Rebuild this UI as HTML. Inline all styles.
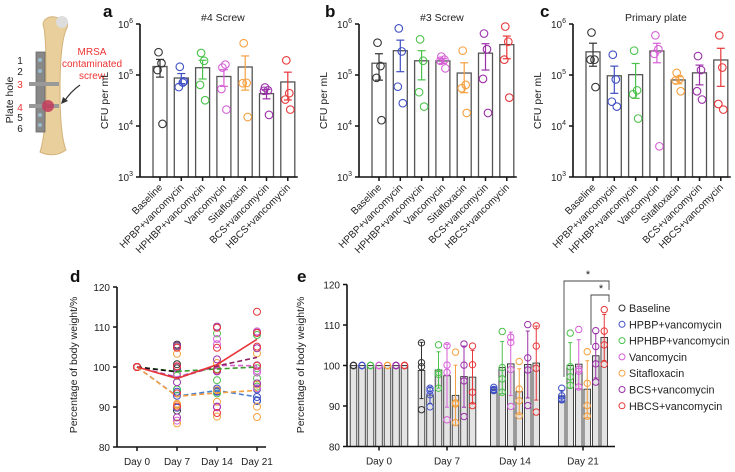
<!DOCTYPE html>
<html><head><meta charset="utf-8"><style>
body{margin:0;background:#fff}
svg{display:block;font-family:"Liberation Sans",sans-serif}
</style></head><body>
<svg id="fig" width="735" height="472" viewBox="0 0 735 472">
<g>
<path d="M44,28 C40,20 50,14 58,18 C66,14 70,22 66,30 C62,40 60,60 60,90 C60,120 62,140 66,150 C58,156 48,156 40,152 C44,140 46,120 46,90 C46,60 46,40 44,28Z" fill="#e9cf9c" stroke="#d4b27a" stroke-width="1"/>
<circle cx="62" cy="22" r="6" fill="#ddd"/>
<rect x="36" y="52" width="9" height="80" fill="#888" stroke="#666" stroke-width="0.8"/>
<rect x="29" y="82" width="30" height="4" fill="#999"/>
<rect x="29" y="104" width="30" height="4" fill="#999"/>
<circle cx="48" cy="106" r="6" fill="#c23a5a" opacity="0.85"/>
<circle cx="40" cy="60" r="2" fill="#9bc" /><circle cx="40" cy="71" r="2" fill="#9bc" />
<circle cx="40" cy="115" r="2" fill="#9bc" /><circle cx="40" cy="125" r="2" fill="#9bc" />
<path d="M80,85 Q70,92 64,102" fill="none" stroke="#333" stroke-width="1.2"/>
<path d="M61,104 L63,97 L68,101Z" fill="#333"/>
<text x="13" y="100" transform="rotate(-90 13 100)" text-anchor="middle" font-size="10.5" fill="#222">Plate hole</text>
<g font-size="10" text-anchor="middle">
<text x="20" y="64" fill="#222">1</text><text x="20" y="75" fill="#222">2</text><text x="20" y="88" fill="#e33">3</text>
<text x="20" y="111" fill="#e33">4</text><text x="20" y="121" fill="#222">5</text><text x="20" y="132" fill="#222">6</text>
</g>
<g font-size="10" text-anchor="middle" fill="#e33">
<text x="92" y="55">MRSA</text><text x="92" y="67">contaminated</text><text x="92" y="79">screw</text>
</g>
</g>
</svg>
<script>
const NS="http://www.w3.org/2000/svg";
const svg=document.getElementById('fig');
function el(t,a,p){const e=document.createElementNS(NS,t);for(const k in a)e.setAttribute(k,a[k]);(p||svg).appendChild(e);return e;}
function tx(s,a,p){const e=el('text',a,p);e.textContent=s;return e;}

const groups=["Baseline","HPBP+vancomycin","HPHBP+vancomycin","Vancomycin","Sitafloxacin","BCS+vancomycin","HBCS+vancomycin"];
const colors=["#333333","#3f4fc4","#4cc24c","#d65fd6","#f5a040","#9a2fa8","#e8373a"];
const cfuTicks=[3,4,5,6];
const screw4=[[2.8e5,1.7e5,1.25e5,1.1e4],[1.45e5,7.1e4,5.8e4,7.5e4],[2.7e5,1.9e5,6.4e4,3.2e4],[1.4e5,1.6e5,5.3e4,2.1e4],[4.2e5,7e4,6.9e4,1.5e4],[5.7e4,5e4,4.9e4,1.65e4],[1.94e5,4.4e4,3.3e4,2.1e4]];
const screw3=[[4.3e5,1.5e5,8.8e4,1.3e4],[8.2e5,2.9e5,5.9e4,2.8e4],[5e5,1.9e5,4.6e4,2.4e4],[2.3e5,2e5,1.9e5,1.35e5],[3e5,6.4e4,5.5e4,1.8e4],[6.5e5,3.2e5,8.4e4,1.8e4],[8.9e5,4.5e5,2e5,3.6e4]];
const plate=[[6.8e5,2e5,2e5,5.8e4],[2.5e5,8.2e4,3e4,2.4e4],[3e5,5e4,4.2e4,1.4e4],[6e5,3.2e5,2.6e5,4e3],[1.1e5,8.4e4,7.8e4,4.8e4],[2.35e5,1.25e5,4.8e4,3.3e4],[6e5,1.4e5,2.7e4,2.1e4]];

const days=["Day 0","Day 7","Day 14","Day 21"];
const weightTicks=[80,90,100,110,120];
const weight=[
 [[100,100,100,100],[105.6,100.7,99.7,89.1],null,null],
 [[100,100,100,100],[94.4,93.8,89.8,92.8],[94.6,94.1,93.8,94.0],[94.4,92.5,91.7,91.5]],
 [[100,100,100,100],[105.1,98.3,97.8,94.4],[108.4,96.7,93.4,99.5],[108,97.2,95.1,99.7]],
 [[100,100,100,100],[104.9,100.1,98.3,86.6],[107,105.7,99,89.9],[108.9,99.1,98.6,94.7]],
 [[100,100,100,100],[103.3,90.8,90.5,85.9],[101,94.2,91.3,87.6],[103.4,95.6,90.1,87.5]],
 [[100,100,100,100],[105.3,100.1,96.2,87.4],[110.1,101.9,98.9,90.1],[108.6,104.7,100.4,95.9]],
 [[100,100,100,100],[104.8,100.2,93.4,90.1],[109.8,104.8,99.3,88.5],[113.8,108.5,105.1,100.3]]
];
const mean=a=>a.reduce((s,v)=>s+v,0)/a.length;
const sd=a=>{const m=mean(a);return Math.sqrt(a.reduce((s,v)=>s+(v-m)*(v-m),0)/(a.length-1));};

function cfuPanel(key,data,ax,title,letter,lx){
  const g=el('g',{});
  
  
  const top=24,bot=177,x0=ax,step=21.3,first=ax+20;
  const y=v=>bot-(Math.log10(v)-3)/3*(bot-top);
  const xc=i=>first+i*step;
  const L=tx(letter,{x:lx,y:17,'font-size':17,'font-weight':'bold',fill:'#111'},g);
  
  
  const T=tx(title,{x:(x0+xc(6)+10)/2+4,y:21,'text-anchor':'middle','font-size':10.5,fill:'#222'},g);
  
  
  const yt=tx('CFU per mL',{x:x0-32,y:(top+bot)/2,transform:`rotate(-90 ${x0-32} ${(top+bot)/2})`,'text-anchor':'middle','font-size':10.5,fill:'#222'},g);
  
  
  cfuTicks.forEach(p=>{
    const yy=bot-(p-3)/3*(bot-top);
    el('line',{x1:x0-4,x2:x0,y1:yy,y2:yy,stroke:'#111','stroke-width':1.5},g);
    const t=el('text',{x:x0-7,y:yy+4,'text-anchor':'end','font-size':10,fill:'#222'},g);
    
    
    t.innerHTML='10<tspan dy="-5" font-size="7">'+p+'</tspan>';
  });
  data.forEach((pts,i)=>{
    const m=mean(pts),se=sd(pts)/2,x=xc(i);
    const b=el('rect',{x:x-7,y:y(m),width:14,height:bot-y(m),fill:'#fff',stroke:'#555','stroke-width':1.3},g);
    
    
    const lo=Math.max(m-se,1001);
    el('line',{x1:x,x2:x,y1:y(m+se),y2:y(lo),stroke:colors[i],'stroke-width':1.2},g);
    el('line',{x1:x-4,x2:x+4,y1:y(m+se),y2:y(m+se),stroke:colors[i],'stroke-width':1.2},g);
    el('line',{x1:x-4,x2:x+4,y1:y(lo),y2:y(lo),stroke:colors[i],'stroke-width':1.2},g);
    pts.forEach((v,j)=>{
      const c=el('circle',{cx:x+(j%2?2.5:-2.5)*(j<2?0.6:1),cy:y(v),r:3.8,fill:'none',stroke:colors[i],'stroke-width':1.1},g);
      
      
    });
    el('line',{x1:x,x2:x,y1:bot,y2:bot+4,stroke:'#111','stroke-width':1.5},g);
    const lab=tx(groups[i],{x:x+3,y:bot+11,'text-anchor':'end','font-size':10,fill:'#222',transform:`rotate(-45 ${x+3} ${bot+11})`},g);
    
    
  });
  el('line',{x1:x0,x2:x0,y1:top,y2:bot,stroke:'#111','stroke-width':1.6},g);
  el('line',{x1:x0,x2:xc(6)+10,y1:bot,y2:bot,stroke:'#111','stroke-width':1.6},g);
}
cfuPanel('a',screw4,140,'#4 Screw','a',103);
cfuPanel('b',screw3,359,'#3 Screw','b',325);
cfuPanel('c',plate,573,'Primary plate','c',540);

(function(){
  const g=el('g',{});
  
  
  const x0=117,top=287,bot=447,xd=i=>137+i*40;
  const y=v=>bot-(v-80)/40*(bot-top);
  tx('d',{x:70,y:282,'font-size':17,'font-weight':'bold',fill:'#111'},g);
  const yt=tx('Percentage of body weight/%',{x:77,y:365,transform:'rotate(-90 77 365)','text-anchor':'middle','font-size':10.5,fill:'#222'},g);
  
  
  weightTicks.forEach(v=>{
    el('line',{x1:x0-4,x2:x0,y1:y(v),y2:y(v),stroke:'#111','stroke-width':1.5},g);
    tx(String(v),{x:x0-7,y:y(v)+4,'text-anchor':'end','font-size':10,fill:'#222'},g);
  });
  days.forEach((d,i)=>{
    el('line',{x1:xd(i),x2:xd(i),y1:bot,y2:bot+4,stroke:'#111','stroke-width':1.5},g);
    const t=tx(d,{x:xd(i),y:bot+18,'text-anchor':'middle','font-size':10,fill:'#222'},g);
    
    
  });
  const lineCol=["#111","#4a7fd0","#3a9a2a","#d65fd6","#f5a040","#8b2060","#e8373a"];
  weight.forEach((s,si)=>{
    s.forEach((pts,di)=>{ if(!pts)return; pts.forEach(v=>{
      const c=el('circle',{cx:xd(di),cy:y(v),r:3.5,fill:'none',stroke:colors[si],'stroke-width':1},g);
      
      
    });});
  });
  [1,4,2,3,5,0,6].forEach(si=>{
    const s=weight[si];let d='';
    s.forEach((pts,di)=>{if(pts)d+=(d?'L':'M')+xd(di)+','+y(mean(pts));});
    const p=el('path',{d:d,fill:'none',stroke:lineCol[si],'stroke-width':1.6,'stroke-dasharray':si===6?'none':'5,3'},g);
    
    
  });
  el('line',{x1:x0,x2:x0,y1:top,y2:bot,stroke:'#111','stroke-width':1.6},g);
  el('line',{x1:x0,x2:266,y1:bot,y2:bot,stroke:'#111','stroke-width':1.6},g);
})();

(function(){
  const g=el('g',{});
  
  
  const x0=347,top=284.5,bot=446.5,xd=i=>379+i*68,bs=8.5;
  const y=v=>bot-(v-80)/40*(bot-top);
  tx('e',{x:297,y:282,'font-size':17,'font-weight':'bold',fill:'#111'},g);
  const yt=tx('Percentage of body weight/%',{x:304,y:365,transform:'rotate(-90 304 365)','text-anchor':'middle','font-size':10.5,fill:'#222'},g);
  
  
  weightTicks.forEach(v=>{
    el('line',{x1:x0-4,x2:x0,y1:y(v),y2:y(v),stroke:'#111','stroke-width':1.5},g);
    tx(String(v),{x:x0-7,y:y(v)+4,'text-anchor':'end','font-size':10,fill:'#222'},g);
  });
  days.forEach((d,di)=>{
    el('line',{x1:xd(di),x2:xd(di),y1:bot,y2:bot+4,stroke:'#111','stroke-width':1.5},g);
    const t=tx(d,{x:xd(di),y:bot+18,'text-anchor':'middle','font-size':10,fill:'#222'},g);
    
    
    const present=weight.map((s,si)=>s[di]?si:-1).filter(v=>v>=0);
    const n=present.length;
    present.forEach((si,k)=>{
      const pts=weight[si][di],m=mean(pts),s=sd(pts),x=xd(di)+(k-(n-1)/2)*bs;
      const b=el('rect',{x:x-3.3,y:y(m),width:6.6,height:bot-y(m),fill:'#e4e4e4',stroke:'#333','stroke-width':0.9},g);
      
      
      if(s>0){
        el('line',{x1:x,x2:x,y1:y(m+s),y2:y(m-s),stroke:colors[si],'stroke-width':1},g);
        el('line',{x1:x-2,x2:x+2,y1:y(m+s),y2:y(m+s),stroke:colors[si],'stroke-width':1},g);
        el('line',{x1:x-2,x2:x+2,y1:y(m-s),y2:y(m-s),stroke:colors[si],'stroke-width':1},g);
      }
      pts.forEach(v=>{
        const c=el('circle',{cx:x,cy:y(v),r:3.2,fill:'none',stroke:colors[si],'stroke-width':1},g);
        
        
      });
    });
  });
  el('line',{x1:x0,x2:x0,y1:top,y2:bot,stroke:'#111','stroke-width':1.6},g);
  el('line',{x1:x0,x2:615,y1:bot,y2:bot,stroke:'#111','stroke-width':1.6},g);
  const sig=el('g',{},g);
  
  
  el('path',{d:'M564,377V281H609V290',fill:'none',stroke:'#444','stroke-width':0.9},sig);
  el('path',{d:'M591,345V295H609V302',fill:'none',stroke:'#444','stroke-width':0.9},sig);
  tx('*',{x:588,y:278,'text-anchor':'middle','font-size':11,fill:'#222'},sig);
  tx('*',{x:601,y:292,'text-anchor':'middle','font-size':11,fill:'#222'},sig);
  const lg=el('g',{},g);
  
  
  groups.forEach((n,i)=>{
    const yy=308+i*16.3;
    const c=el('circle',{cx:622,cy:yy,r:3,fill:'none',stroke:colors[i],'stroke-width':1},lg);
    
    
    const t=tx(n,{x:629,y:yy+4,'font-size':10.8,fill:'#222'},lg);
    
    
  });
})();
</script>
</body></html>
